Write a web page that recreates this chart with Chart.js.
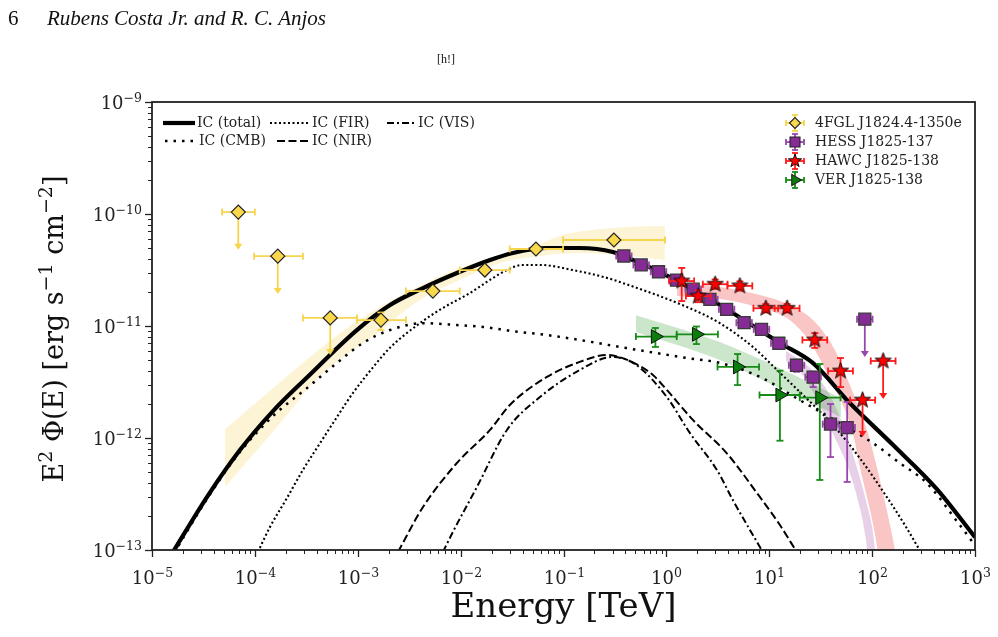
<!DOCTYPE html>
<html lang="en">
<head>
<meta charset="UTF-8">
<title>IC spectrum</title>
<script src="https://cdn.jsdelivr.net/npm/chart.js"></script>
<style>
    html, body { margin: 0; padding: 0; background: #fff; }
    body { width: 998px; height: 637px; position: relative; overflow: hidden; }
    #chart { position: absolute; left: 0; top: 0; }
    .hdr { position: absolute; color: #111; font-family: "Liberation Serif", serif; }
    #page-no { left: 8px; top: 8px; font-size: 21px; line-height: 21px; }
    #running { left: 47px; top: 8px; font-size: 21px; line-height: 21px; font-style: italic; }
    #float { left: 437px; top: 53px; font-size: 12px; line-height: 12px; }
</style>
</head>
<body>
<canvas id="chart" width="998" height="637"></canvas>
<div class="hdr" id="page-no">6</div>
<div class="hdr" id="running">Rubens Costa Jr. and R. C. Anjos</div>
<div class="hdr" id="float">[h!]</div>
<script>
// axis decades
const xTickExp = [-5, -4, -3, -2, -1, 0, 1, 2, 3];
const yTickExp = [-13, -12, -11, -10, -9];

// model curves: E [TeV], E^2 Phi [erg s^-1 cm^-2]
const totalE = [1.6e-5, 3.42e-5, 7.16e-5, 1.5e-4, 3.21e-4, 9.8e-4, 2.06e-3, 4.31e-3, 9.2e-3, 1.93e-2, 3.22e-2, 6.9e-2, 0.144, 0.302, 0.378, 0.865, 2.65, 12.7, 26.5, 60.7, 159, 426, 1000];
const totalF = [9.6e-14, 2.97e-13, 7.8e-13, 1.74e-12, 3.47e-12, 9.2e-12, 1.54e-11, 2.18e-11, 2.97e-11, 3.88e-11, 4.49e-11, 4.97e-11, 4.97e-11, 4.58e-11, 4.22e-11, 3.03e-11, 1.74e-11, 7.05e-12, 4.68e-12, 2.05e-12, 8.7e-13, 3.5e-13, 1.3e-13];

const cmbE = [1.64e-5, 3.42e-5, 7.16e-5, 1.5e-4, 3.21e-4, 6.28e-4, 1.12e-3, 2.06e-3, 4.31e-3, 9.2e-3, 1.65e-2, 3.22e-2, 6.9e-2, 0.144, 0.353, 1.58, 3.31, 8.11, 19.8, 48.5, 102, 186, 340, 711, 995];
const cmbF = [9.4e-14, 2.85e-13, 7.5e-13, 1.57e-12, 2.79e-12, 4.68e-12, 7.05e-12, 9.2e-12, 1.06e-11, 1.02e-11, 9.8e-12, 9.0e-12, 8.3e-12, 7.5e-12, 6.5e-12, 5.18e-12, 4.68e-12, 3.51e-12, 2.18e-12, 1.36e-12, 9.0e-13, 5.98e-13, 3.96e-13, 1.67e-13, 1.11e-13];

const firE = [1.07e-4, 1.4e-4, 2.05e-4, 2.93e-4, 4.3e-4, 6.28e-4, 8.97e-4, 1.47e-3, 2.06e-3, 4.02e-3, 6.73e-3, 1.23e-2, 1.93e-2, 2.82e-2, 4.03e-2, 5.9e-2, 0.123, 0.264, 0.353, 1.58, 3.31, 6.93, 11.9, 19.8, 41.5, 76, 139, 208, 297];
const firF = [9.6e-14, 1.6e-13, 2.91e-13, 5.18e-13, 9.0e-13, 1.54e-12, 2.52e-12, 4.49e-12, 6.4e-12, 1.06e-11, 1.45e-11, 1.97e-11, 2.58e-11, 3.16e-11, 3.51e-11, 3.51e-11, 3.16e-11, 2.69e-11, 2.47e-11, 1.48e-11, 1.06e-11, 6.5e-12, 4.05e-12, 2.58e-12, 1.31e-12, 6.6e-13, 2.97e-13, 1.67e-13, 9.6e-14];

const nirE = [2.46e-3, 4.31e-3, 9.2e-3, 1.93e-2, 3.01e-2, 6.9e-2, 0.144, 0.264, 0.442, 0.74, 1.01, 1.81, 3.87, 7.59, 12.7, 18.5];
const nirF = [9.6e-14, 2.42e-13, 5.98e-13, 1.18e-12, 1.97e-12, 3.51e-12, 4.78e-12, 5.51e-12, 4.87e-12, 3.65e-12, 2.69e-12, 1.45e-12, 7.3e-13, 3.23e-13, 1.67e-13, 9.6e-14];

const visE = [6.73e-3, 8.41e-3, 1.44e-2, 2.82e-2, 5.9e-2, 0.144, 0.295, 0.494, 1.01, 1.69, 3.1, 4.43, 6.49, 8.67];
const visF = [9.6e-14, 1.45e-13, 3.65e-13, 1.18e-12, 2.32e-12, 4.05e-12, 5.28e-12, 4.58e-12, 2.32e-12, 1.11e-12, 5.18e-13, 2.79e-13, 1.51e-13, 9.6e-14];

// 4FGL J1824.4-1350e
const fglE   = [6.9e-5, 1.67e-4, 5.4e-4, 1.68e-3, 5.37e-3, 1.72e-2, 5.4e-2, 0.309];
const fglF   = [1.04e-10, 4.2e-11, 1.18e-11, 1.13e-11, 2.05e-11, 3.16e-11, 4.87e-11, 5.86e-11];
const fglElo = [4.8e-5, 9.8e-5, 2.93e-4, 9.8e-4, 2.94e-3, 9.8e-3, 3.0e-2, 9.9e-2];
const fglEhi = [1.0e-4, 2.93e-4, 9.8e-4, 2.94e-3, 9.8e-3, 3.0e-2, 9.9e-2, 0.97];
const fglFlo = [4.8e-11, 1.93e-11, 5.5e-12, 9.2e-12, 2.0e-11, 3.1e-11, 4.8e-11, 5.8e-11];
const fglFhi = [1.04e-10, 4.2e-11, 1.18e-11, 1.32e-11, 2.1e-11, 3.2e-11, 4.95e-11, 5.95e-11];
const fglUL  = [true, true, true, false, false, false, false, false];

// HESS J1825-137
const hessE   = [0.386, 0.569, 0.839, 1.256, 1.82, 2.65, 3.85, 5.70, 8.41, 12.4, 18.4, 26.7, 39.4, 57.2, 84.9];
const hessF   = [4.22e-11, 3.51e-11, 3.05e-11, 2.57e-11, 2.13e-11, 1.73e-11, 1.41e-11, 1.07e-11, 9.34e-12, 7.01e-12, 4.46e-12, 3.5e-12, 1.33e-12, 1.24e-12, 1.15e-11];
const hessElo = [0.325, 0.478, 0.705, 1.06, 1.53, 2.23, 3.24, 4.79, 7.07, 10.4, 15.5, 22.4, 33.1, 48.1, 71.3];
const hessEhi = [0.459, 0.677, 0.998, 1.49, 2.17, 3.15, 4.58, 6.78, 10.0, 14.8, 21.9, 31.8, 46.9, 68.1, 101];
const hessFlo = [3.95e-11, 3.3e-11, 2.86e-11, 2.4e-11, 1.99e-11, 1.61e-11, 1.3e-11, 9.8e-12, 8.5e-12, 6.3e-12, 3.9e-12, 2.85e-12, 6.76e-13, 4.05e-13, 5.28e-12];
const hessFhi = [4.5e-11, 3.75e-11, 3.26e-11, 2.75e-11, 2.28e-11, 1.86e-11, 1.52e-11, 1.16e-11, 1.02e-11, 7.7e-12, 5.0e-12, 3.91e-12, 2.01e-12, 2.1e-12, 1.15e-11];
const hessUL  = [false, false, false, false, false, false, false, false, false, false, false, false, false, false, true];

// HAWC J1825-138
const hawcE   = [1.41, 2.04, 2.98, 5.18, 9.27, 14.9, 27.7, 49.3, 80.7, 128];
const hawcF   = [2.52e-11, 1.85e-11, 2.36e-11, 2.28e-11, 1.44e-11, 1.44e-11, 7.5e-12, 3.96e-12, 2.18e-12, 4.87e-12];
const hawcElo = [1.07, 1.55, 2.26, 3.92, 7.02, 11.3, 21.0, 37.3, 61.1, 97];
const hawcEhi = [1.86, 2.69, 3.93, 6.84, 12.2, 19.7, 36.6, 65.1, 107, 169];
const hawcFlo = [1.67e-11, 1.63e-11, 2.14e-11, 2.07e-11, 1.32e-11, 1.32e-11, 6.37e-12, 2.85e-12, 1.02e-12, 2.23e-12];
const hawcFhi = [3.3e-11, 2.09e-11, 2.6e-11, 2.5e-11, 1.57e-11, 1.57e-11, 8.65e-12, 5.18e-12, 2.18e-12, 4.87e-12];
const hawcUL  = [false, false, false, false, false, false, false, false, true, true];

// VER J1825-138
const verE   = [0.782, 1.96, 4.92, 12.7, 31.0];
const verF   = [8.05e-12, 8.43e-12, 4.31e-12, 2.42e-12, 2.29e-12];
const verElo = [0.506, 1.26, 3.14, 8.04, 19.8];
const verEhi = [1.26, 3.17, 7.96, 19.8, 49.3];
const verFlo = [6.5e-12, 6.9e-12, 2.97e-12, 9.46e-13, 4.22e-13];
const verFhi = [9.6e-12, 9.9e-12, 5.62e-12, 3.99e-12, 4.58e-12];
const verUL  = [false, false, false, false, false];

// fit bands (upper / lower edges)
const fglBandUpE = [5.12e-5, 1.87e-4, 3.93e-4, 8.4e-4, 2.57e-3, 7.87e-3, 2.41e-2, 5.5e-2, 9.9e-2, 0.302, 0.966];
const fglBandUpF = [1.2e-12, 3.3e-12, 5.86e-12, 1.0e-11, 1.85e-11, 3.03e-11, 4.3e-11, 5.28e-11, 6.5e-11, 7.5e-11, 7.8e-11];
const fglBandLoE = [5.12e-5, 1.87e-4, 3.93e-4, 1.54e-3, 4.02e-3, 9.8e-3, 2.41e-2, 5.9e-2, 0.144, 0.353, 0.966];
const fglBandLoF = [3.65e-13, 1.45e-12, 3.3e-12, 8.66e-12, 1.71e-11, 2.58e-11, 3.65e-11, 4.22e-11, 4.49e-11, 4.3e-11, 3.88e-11];

const verBandE   = [0.506, 3.31, 11.9, 49.7];
const verBandUpF = [1.25e-11, 7.2e-12, 4.31e-12, 2.28e-12];
const verBandLoF = [8.83e-12, 4.97e-12, 2.85e-12, 1.54e-12];

const hawcBandUpE = [1.27, 3.31, 8.11, 15.8, 27.7, 43.4, 60.7, 90.8, 111, 155, 174];
const hawcBandUpF = [2.42e-11, 2.23e-11, 1.89e-11, 1.54e-11, 1.09e-11, 6.1e-12, 2.97e-12, 1.11e-12, 5.5e-13, 1.42e-13, 8.1e-14];
const hawcBandLoE = [1.27, 3.31, 8.11, 15.8, 24.8, 37.2, 64.9, 76, 106, 116, 174];
const hawcBandLoF = [1.85e-11, 1.74e-11, 1.45e-11, 1.13e-11, 7.2e-12, 3.65e-12, 1.11e-12, 5.5e-13, 1.42e-13, 8.1e-14, 1e-15];

const hessBandUpE = [14.5, 24.8, 38.8, 54.3, 71.0, 86.9, 102, 109];
const hessBandUpF = [6.0e-12, 4.22e-12, 2.42e-12, 1.18e-12, 5.5e-13, 2.79e-13, 1.42e-13, 8.1e-14];
const hessBandLoE = [14.5, 22.2, 32.4, 44.4, 58.1, 72.6, 84.9, 90.8, 109];
const hessBandLoF = [4.9e-12, 3.44e-12, 1.78e-12, 9.6e-13, 5.5e-13, 2.79e-13, 1.42e-13, 8.1e-14, 1e-15];

// ---------------------------------------------------------------

const SERIF = '"DejaVu Serif", serif';
const MINUS = '\u2212';

function pts(E, F) {
    return E.map((e, i) => ({x: e, y: F[i]}));
}
function expRuns(e) {
    return [{t: '10'}, {t: String(e).replace('-', MINUS), sup: true}];
}

// text with raised (superscript) runs, drawn on the alphabetic baseline
function drawRich(ctx, runs, x, y, align, size, supSize, raise) {
    let w = 0;
    for (const r of runs) {
        ctx.font = (r.sup ? supSize : size) + 'px ' + SERIF;
        r.w = ctx.measureText(r.t).width;
        w += r.w;
    }
    let cx = align === 'center' ? x - w / 2 : (align === 'right' ? x - w : x);
    ctx.textAlign = 'left';
    ctx.textBaseline = 'alphabetic';
    for (const r of runs) {
        ctx.font = (r.sup ? supSize : size) + 'px ' + SERIF;
        ctx.fillText(r.t, cx, r.sup ? y - raise : y);
        cx += r.w;
    }
}

function makeStar(r, fill) {
    const s = Math.ceil(r * 2 + 4);
    const c = document.createElement('canvas');
    c.width = s; c.height = s;
    const g = c.getContext('2d');
    g.beginPath();
    for (let k = 0; k < 10; k++) {
        const rr = k % 2 ? r * 0.4 : r;
        const a = -Math.PI / 2 + k * Math.PI / 5;
        g.lineTo(s / 2 + rr * Math.cos(a), s / 2 + rr * Math.sin(a));
    }
    g.closePath();
    g.fillStyle = fill; g.fill();
    g.strokeStyle = '#111'; g.lineWidth = 1; g.stroke();
    return c;
}
const starImg = makeStar(8.5, '#ff0000');
const starSmall = makeStar(7, '#ff0000');

const errSets = {
    fgl:  {E: fglE, F: fglF, Elo: fglElo, Ehi: fglEhi, Flo: fglFlo, Fhi: fglFhi, ul: fglUL, color: '#f7d44c'},
    hess: {E: hessE, F: hessF, Elo: hessElo, Ehi: hessEhi, Flo: hessFlo, Fhi: hessFhi, ul: hessUL, color: '#9a45ad'},
    hawc: {E: hawcE, F: hawcF, Elo: hawcElo, Ehi: hawcEhi, Flo: hawcFlo, Fhi: hawcFhi, ul: hawcUL, color: '#ff1a1a'},
    ver:  {E: verE, F: verF, Elo: verElo, Ehi: verEhi, Flo: verFlo, Fhi: verFhi, ul: verUL, color: '#168c16'}
};

function seg(ctx, x0, y0, x1, y1) {
    ctx.beginPath(); ctx.moveTo(x0, y0); ctx.lineTo(x1, y1); ctx.stroke();
}

// error bars drawn right before their markers
const errPlugin = {
    id: 'errbars',
    beforeDatasetDraw(chart, args) {
        const ds = chart.data.datasets[args.index];
        if (!ds.errKey) return;
        const s = errSets[ds.errKey];
        const ctx = chart.ctx, xs = chart.scales.x, ys = chart.scales.y;
        const cap = 3.5;
        ctx.save();
        ctx.strokeStyle = s.color; ctx.fillStyle = s.color; ctx.lineWidth = 1.8;
        for (let i = 0; i < s.E.length; i++) {
            const px = xs.getPixelForValue(s.E[i]), py = ys.getPixelForValue(s.F[i]);
            const xl = xs.getPixelForValue(s.Elo[i]), xr = xs.getPixelForValue(s.Ehi[i]);
            seg(ctx, xl, py, xr, py);
            seg(ctx, xl, py - cap, xl, py + cap);
            seg(ctx, xr, py - cap, xr, py + cap);
            const yb = ys.getPixelForValue(s.Flo[i]);
            if (s.ul[i]) {
                seg(ctx, px, py, px, yb - 4);
                ctx.beginPath();
                ctx.moveTo(px - 4, yb - 6); ctx.lineTo(px + 4, yb - 6); ctx.lineTo(px, yb);
                ctx.closePath(); ctx.fill();
            } else {
                const yt = ys.getPixelForValue(s.Fhi[i]);
                seg(ctx, px, yt, px, yb);
                seg(ctx, px - cap, yt, px + cap, yt);
                seg(ctx, px - cap, yb, px + cap, yb);
            }
        }
        ctx.restore();
    }
};

// frame, tick marks (outward, major + minor), tick labels and y title
const framePlugin = {
    id: 'frame',
    afterDatasetsDraw(chart) {
        const ctx = chart.ctx, a = chart.chartArea, xs = chart.scales.x, ys = chart.scales.y;
        ctx.save();
        ctx.strokeStyle = '#222';
        ctx.fillStyle = '#222';
        const xLast = xTickExp[xTickExp.length - 1], yLast = yTickExp[yTickExp.length - 1];
        for (const e of xTickExp) {
            const p = Math.round(xs.getPixelForValue(Math.pow(10, e))) + 0.5;
            ctx.lineWidth = 1.3; seg(ctx, p, a.bottom, p, a.bottom + 7);
            drawRich(ctx, expRuns(e), p, a.bottom + 34, 'center', 18, 12.5, 7.5);
            if (e === xLast) continue;
            ctx.lineWidth = 1;
            for (let m = 2; m <= 9; m++) {
                const q = Math.round(xs.getPixelForValue(m * Math.pow(10, e))) + 0.5;
                seg(ctx, q, a.bottom, q, a.bottom + 4);
            }
        }
        for (const e of yTickExp) {
            const p = Math.round(ys.getPixelForValue(Math.pow(10, e))) + 0.5;
            ctx.lineWidth = 1.3; seg(ctx, a.left - 7, p, a.left, p);
            drawRich(ctx, expRuns(e), a.left - 10, p + 6.5, 'right', 18, 12.5, 7.5);
            if (e === yLast) continue;
            ctx.lineWidth = 1;
            for (let m = 2; m <= 9; m++) {
                const q = Math.round(ys.getPixelForValue(m * Math.pow(10, e))) + 0.5;
                seg(ctx, a.left - 4, q, a.left, q);
            }
        }
        ctx.lineWidth = 1.8;
        ctx.strokeRect(a.left, a.top, a.right - a.left, a.bottom - a.top);

        // y axis title
        ctx.fillStyle = '#111';
        ctx.translate(63, (a.top + a.bottom) / 2 + 3);
        ctx.rotate(-Math.PI / 2);
        drawRich(ctx, [
            {t: 'E'}, {t: '2', sup: true}, {t: ' \u03A6(E) [erg s'}, {t: MINUS + '1', sup: true},
            {t: ' cm'}, {t: MINUS + '2', sup: true}, {t: ']'}
        ], 0, 0, 'center', 27, 19, 11);
        ctx.restore();
    }
};

function drawDiamond(ctx, x, y, r) {
    ctx.beginPath(); ctx.moveTo(x - r, y); ctx.lineTo(x, y - r); ctx.lineTo(x + r, y); ctx.lineTo(x, y + r); ctx.closePath();
}
function drawSquare(ctx, x, y, h) {
    ctx.beginPath(); ctx.rect(x - h, y - h, 2 * h, 2 * h);
}
function drawTriRight(ctx, x, y, r) {
    ctx.beginPath();
    for (let k = 0; k < 3; k++) {
        const a = k * 2 * Math.PI / 3;
        ctx.lineTo(x + Math.cos(a) * r, y + Math.sin(a) * r);
    }
    ctx.closePath();
}

const curveLegend = [
    {label: 'IC (total)', dash: [], lw: 4.2, x0: 163, x1: 195, tx: 197, y: 123},
    {label: 'IC (FIR)', dash: [2, 2.5], lw: 2.1, x0: 270, x1: 308, tx: 312, y: 123},
    {label: 'IC (VIS)', dash: [7, 3, 2, 3], lw: 2, x0: 387, x1: 415, tx: 418, y: 123},
    {label: 'IC (CMB)', dash: [2.5, 6], lw: 2.5, x0: 165, x1: 195, tx: 199, y: 141},
    {label: 'IC (NIR)', dash: [8, 3.5], lw: 2, x0: 277, x1: 308, tx: 312, y: 141}
];
const dataLegend = [
    {label: '4FGL J1824.4-1350e', key: 'fgl', y: 123},
    {label: 'HESS J1825-137', key: 'hess', y: 142},
    {label: 'HAWC J1825-138', key: 'hawc', y: 161},
    {label: 'VER J1825-138', key: 'ver', y: 180}
];

const legendPlugin = {
    id: 'legends',
    afterDraw(chart) {
        const ctx = chart.ctx;
        ctx.save();
        ctx.font = '14px ' + SERIF;
        ctx.textBaseline = 'middle';
        ctx.textAlign = 'left';
        for (const it of curveLegend) {
            ctx.strokeStyle = '#000'; ctx.lineWidth = it.lw; ctx.setLineDash(it.dash);
            seg(ctx, it.x0, it.y, it.x1, it.y);
            ctx.setLineDash([]);
            ctx.fillStyle = '#222';
            ctx.fillText(it.label, it.tx, it.y);
        }
        const mx = 795;
        for (const it of dataLegend) {
            const c = errSets[it.key].color;
            ctx.strokeStyle = c; ctx.lineWidth = 1.8;
            seg(ctx, mx - 9, it.y, mx + 9, it.y);
            seg(ctx, mx, it.y - 8, mx, it.y + 8);
            seg(ctx, mx - 9, it.y - 3, mx - 9, it.y + 3);
            seg(ctx, mx + 9, it.y - 3, mx + 9, it.y + 3);
            seg(ctx, mx - 3, it.y - 8, mx + 3, it.y - 8);
            seg(ctx, mx - 3, it.y + 8, mx + 3, it.y + 8);
            ctx.lineWidth = 1.1; ctx.strokeStyle = '#222';
            if (it.key === 'fgl') { drawDiamond(ctx, mx, it.y, 5.5); ctx.fillStyle = '#fad84e'; ctx.fill(); ctx.stroke(); }
            if (it.key === 'hess') { drawSquare(ctx, mx, it.y, 5); ctx.fillStyle = '#862a96'; ctx.fill(); ctx.stroke(); }
            if (it.key === 'hawc') { ctx.drawImage(starSmall, mx - starSmall.width / 2, it.y - starSmall.height / 2); }
            if (it.key === 'ver') { drawTriRight(ctx, mx, it.y, 6.5); ctx.fillStyle = '#0b7d0b'; ctx.fill(); ctx.stroke(); }
            ctx.fillStyle = '#222';
            ctx.fillText(it.label, 815, it.y);
        }
        ctx.restore();
    }
};

function curve(E, F, width, dash) {
    return {
        data: pts(E, F), borderColor: '#000', borderWidth: width, borderDash: dash,
        pointRadius: 0, fill: false, cubicInterpolationMode: 'monotone', order: 2, clip: 0
    };
}
function bandEdge(E, F, fillColor, isLower) {
    return {
        data: pts(E, F), borderColor: 'rgba(0,0,0,0)', borderWidth: 0, showLine: false,
        pointRadius: 0, fill: isLower ? '-1' : false, backgroundColor: fillColor,
        cubicInterpolationMode: 'monotone', order: 3, clip: 0
    };
}

const datasets = [
    {data: pts(fglE, fglF), errKey: 'fgl', showLine: false, pointStyle: 'rectRot', pointRadius: 7,
     pointBackgroundColor: '#fad84e', pointBorderColor: '#222', pointBorderWidth: 1.2, order: 0},
    {data: pts(hessE, hessF), errKey: 'hess', showLine: false, pointStyle: 'rect', pointRadius: 8.5,
     pointBackgroundColor: '#862a96', pointBorderColor: '#3a3a3a', pointBorderWidth: 1.3, order: 1},
    {data: pts(hawcE, hawcF), errKey: 'hawc', showLine: false, pointStyle: starImg, pointRadius: 8,
     order: 0},
    {data: pts(verE, verF), errKey: 'ver', showLine: false, pointStyle: 'triangle', pointRotation: 90, pointRadius: 8,
     pointBackgroundColor: '#0b7d0b', pointBorderColor: '#111', pointBorderWidth: 1, order: 1},
    curve(totalE, totalF, 4.2, []),
    curve(cmbE, cmbF, 2.5, [2.5, 6]),
    curve(firE, firF, 2.1, [2, 2.5]),
    curve(nirE, nirF, 2, [8, 3.5]),
    curve(visE, visF, 2, [7, 3, 2, 3]),
    bandEdge(fglBandUpE, fglBandUpF, 'rgba(240,205,60,0.22)', false),
    bandEdge(fglBandLoE, fglBandLoF, 'rgba(240,205,60,0.22)', true),
    bandEdge(verBandE, verBandUpF, 'rgba(0,128,0,0.2)', false),
    bandEdge(verBandE, verBandLoF, 'rgba(0,128,0,0.2)', true),
    bandEdge(hawcBandUpE, hawcBandUpF, 'rgba(240,80,80,0.33)', false),
    bandEdge(hawcBandLoE, hawcBandLoF, 'rgba(240,80,80,0.33)', true),
    bandEdge(hessBandUpE, hessBandUpF, 'rgba(128,0,128,0.18)', false),
    bandEdge(hessBandLoE, hessBandLoF, 'rgba(128,0,128,0.18)', true)
];

new Chart(document.getElementById('chart'), {
    type: 'line',
    data: {datasets: datasets},
    plugins: [errPlugin, framePlugin, legendPlugin],
    options: {
        responsive: false,
        animation: false,
        events: [],
        layout: {padding: {top: 102, right: 23, left: 0, bottom: 0}},
        plugins: {legend: {display: false}, tooltip: {enabled: false}},
        scales: {
            x: {
                type: 'logarithmic', position: 'bottom', min: 1e-5, max: 1e3,
                grid: {display: false, drawTicks: false},
                border: {display: false},
                ticks: {display: false},
                title: {display: true, text: 'Energy [TeV]', color: '#111',
                        font: {family: SERIF, size: 34}, padding: {top: 0, bottom: 8}},
                afterBuildTicks: s => { s.ticks = xTickExp.map(e => ({value: Math.pow(10, e)})); },
                afterFit: s => { s.height = 87; s.paddingLeft = 0; s.paddingRight = 0; }
            },
            y: {
                type: 'logarithmic', position: 'left', min: 1e-13, max: 1e-9,
                grid: {display: false, drawTicks: false},
                border: {display: false},
                ticks: {display: false},
                afterBuildTicks: s => { s.ticks = yTickExp.map(e => ({value: Math.pow(10, e)})); },
                afterFit: s => { s.width = 152; s.paddingTop = 0; s.paddingBottom = 0; }
            }
        }
    }
});
</script>
</body>
</html>
